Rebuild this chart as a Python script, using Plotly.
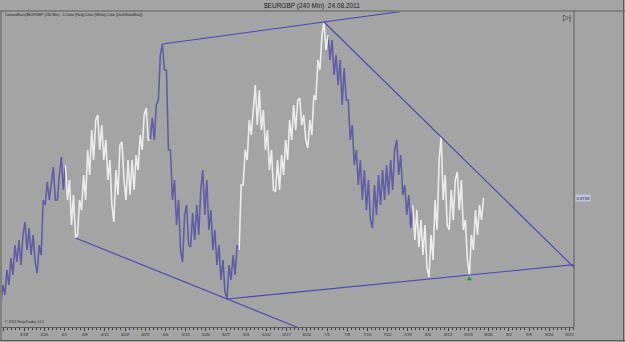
import math
import pandas as pd
import plotly.graph_objects as go

# ---------------- data ----------------
title_text = "$EURGBP (240 Min)  24.08.2011"
indicator_text = "ColoredBars($EURGBP (240 Min), -1,Color [Red],Color [White],Color [DarkSlateBlue])"
copyright_text = "\u00a9 2011 NinjaTrader, LLC"
last_price_text = "0.8758"

start_day = "2011-03-10"   # first trading day in view

day_high = [
    0.8584, 0.8614, 0.8638, 0.8664, 0.8674, 0.8684, 0.8710, 0.8698, 0.8684, 0.8664,
    0.8754, 0.8790, 0.8794, 0.8820, 0.8804, 0.8840, 0.8824, 0.8794, 0.8764, 0.8754,
    0.8804, 0.8854, 0.8894, 0.8914, 0.8924, 0.8904, 0.8874, 0.8834, 0.8814, 0.8864,
    0.8870, 0.8834, 0.8834, 0.8844, 0.8884, 0.8924, 0.8938, 0.8918, 0.8944, 0.9044,
    0.9066, 0.9014, 0.8854, 0.8794, 0.8754, 0.8724, 0.8744, 0.8728, 0.8744, 0.8774,
    0.8814, 0.8794, 0.8734, 0.8694, 0.8664, 0.8634, 0.8624, 0.8644, 0.8664, 0.8784,
    0.8854, 0.8914, 0.8944, 0.8984, 0.8974, 0.8934, 0.8894, 0.8854, 0.8834, 0.8844,
    0.8874, 0.8914, 0.8944, 0.8954, 0.8958, 0.8924, 0.8914, 0.8964, 0.9034, 0.9084,
    0.9110, 0.9084, 0.9074, 0.9044, 0.9034, 0.9018, 0.8954, 0.8904, 0.8854, 0.8834,
    0.8814, 0.8794, 0.8784, 0.8804, 0.8814, 0.8824, 0.8834, 0.8854, 0.8874, 0.8844,
    0.8784, 0.8764, 0.8744, 0.8734, 0.8714, 0.8704, 0.8684, 0.8754, 0.8834, 0.8880,
    0.8804, 0.8774, 0.8794, 0.8810, 0.8794, 0.8714, 0.8684, 0.8734, 0.8744, 0.8758,
]
day_low = [
    0.8544, 0.8564, 0.8584, 0.8604, 0.8630, 0.8624, 0.8654, 0.8644, 0.8630, 0.8608,
    0.8644, 0.8744, 0.8754, 0.8754, 0.8754, 0.8774, 0.8754, 0.8704, 0.8678, 0.8684,
    0.8734, 0.8754, 0.8804, 0.8834, 0.8854, 0.8834, 0.8794, 0.8744, 0.8710, 0.8764,
    0.8794, 0.8754, 0.8764, 0.8774, 0.8814, 0.8854, 0.8874, 0.8874, 0.8874, 0.8954,
    0.9014, 0.8854, 0.8754, 0.8704, 0.8654, 0.8630, 0.8664, 0.8660, 0.8674, 0.8684,
    0.8724, 0.8694, 0.8654, 0.8624, 0.8594, 0.8570, 0.8556, 0.8594, 0.8604, 0.8654,
    0.8784, 0.8834, 0.8884, 0.8904, 0.8894, 0.8854, 0.8814, 0.8774, 0.8770, 0.8774,
    0.8804, 0.8834, 0.8874, 0.8894, 0.8904, 0.8874, 0.8858, 0.8884, 0.8954, 0.9014,
    0.9054, 0.9034, 0.9004, 0.8984, 0.8944, 0.8954, 0.8874, 0.8824, 0.8784, 0.8754,
    0.8734, 0.8714, 0.8698, 0.8724, 0.8744, 0.8754, 0.8764, 0.8774, 0.8804, 0.8764,
    0.8724, 0.8698, 0.8674, 0.8660, 0.8644, 0.8618, 0.8600, 0.8634, 0.8694, 0.8754,
    0.8704, 0.8694, 0.8714, 0.8734, 0.8694, 0.8634, 0.8604, 0.8654, 0.8684, 0.8714,
]
# colour of the bars: (colour name, number of consecutive days)
color_runs = [("blue", 16), ("white", 21), ("blue", 22), ("white", 22), ("blue", 21), ("white", 18)]

tick_labels = ["3/11", "3/18", "3/25", "4/1", "4/8", "4/15", "4/22", "4/29", "5/6", "5/13",
               "5/20", "5/27", "6/3", "6/10", "6/17", "6/24", "7/1", "7/8", "7/15", "7/22",
               "7/29", "8/5", "8/12", "8/19", "8/26", "9/2", "9/9", "9/16", "9/23"]

# trend lines: (day index, extreme) -> (day index, extreme), extended to trading-day index
trendlines = [
    ((18, "low"), (56, "low"), 80.0),
    ((56, "low"), (116, "low"), 142.3),
    ((40, "high"), (80, "high"), 110.0),
    ((80, "high"), (109, "high"), 142.3),
]
signal_day = 116
x_range = ["2011-03-10 13:12", "2011-09-26 03:20"]
y_range = [0.8500, 0.9130]

# ---------------- styling ----------------
BG = "#a4a4a4"
FRAME = "#5c5c5c"
BAR_COLORS = {"blue": "#625ca6", "white": "#ececec"}
TL_COLOR = "#4848b4"
W, H = 625, 342
L, R, T, B = 2, 51, 12, 15

n = len(day_high)
cal = pd.bdate_range(start_day, periods=200)
day_color = []
for c, k in color_runs:
    day_color += [c] * k

mids = [(h + l) / 2 for h, l in zip(day_high, day_low)]
up = [(mids[j + 1] > mids[j]) if j < n - 1 else (mids[j] > mids[j - 1]) for j in range(n)]


def tpoint(t):
    j = int(math.floor(t))
    return cal[j] + pd.Timedelta(hours=24 * (t - j))


def ext(j, kind):
    if kind == "high":
        return j + (0.75 if up[j] else 0.25), day_high[j]
    return j + (0.25 if up[j] else 0.75), day_low[j]


pts = []
for j in range(n):
    seq = [(0.25, day_low[j]), (0.75, day_high[j])] if up[j] else [(0.25, day_high[j]), (0.75, day_low[j])]
    for f, p in seq:
        pts.append((tpoint(j + f), p, day_color[j]))

fig = go.Figure()
traces = {c: ([], []) for c in BAR_COLORS}
i = 0
while i < len(pts):
    c = pts[i][2]
    k = i
    while k < len(pts) and pts[k][2] == c:
        k += 1
    seg = pts[i:min(k + 1, len(pts))]
    xs, ys = traces[c]
    xs += [p[0] for p in seg] + [None]
    ys += [p[1] for p in seg] + [None]
    i = k
for c in ["blue", "white"]:
    xs, ys = traces[c]
    fig.add_trace(go.Scatter(x=xs, y=ys, mode="lines", line=dict(color=BAR_COLORS[c], width=1.6),
                             hoverinfo="skip", showlegend=False))

for (a, b, t_end) in trendlines:
    t1, p1 = ext(*a)
    t2, p2 = ext(*b)
    p_end = p1 + (p2 - p1) * (t_end - t1) / (t2 - t1)
    fig.add_trace(go.Scatter(x=[tpoint(t1), tpoint(t_end)], y=[p1, p_end], mode="lines",
                             line=dict(color=TL_COLOR, width=1.1), hoverinfo="skip", showlegend=False))

ts, ps = ext(signal_day, "low")
fig.add_trace(go.Scatter(x=[tpoint(ts)], y=[ps - 0.0008], mode="markers",
                         marker=dict(symbol="triangle-up", size=5, color="#1e9e2a"),
                         hoverinfo="skip", showlegend=False))

tick_vals = [pd.Timestamp("2011/" + s) for s in tick_labels]

fig.update_layout(
    width=W, height=H, margin=dict(l=L, r=R, t=T, b=B),
    paper_bgcolor=BG, plot_bgcolor=BG, showlegend=False,
    font=dict(family="Liberation Sans", color="#2a2a2a"),
    xaxis=dict(type="date", range=x_range, rangebreaks=[dict(bounds=["sat", "mon"])],
               tickvals=tick_vals, ticktext=tick_labels, tickfont=dict(size=4.2, color="#2a2a2a"),
               ticks="outside", ticklen=3, tickcolor="#404040", tickwidth=1,
               minor=dict(ticks="outside", ticklen=2, tickcolor="#404040", dtick=86400000,
                          tick0="2011-03-07", showgrid=False),
               showgrid=False, zeroline=False, showline=True, linecolor=FRAME, linewidth=1,
               fixedrange=True),
    yaxis=dict(range=y_range, showgrid=False, zeroline=False, showticklabels=False,
               showline=False, ticks="", fixedrange=True),
)


def px_x(p):
    return (p - L) / (W - L - R)


def px_y(p):
    return (H - B - p) / (H - T - B)


frame = [
    (0, 11, W, 11),
    (1, 11, 1, 341),
    (574, 11, 574, 327),
    (0, 340.5, W, 340.5),
    (623.5, 0, 623.5, 342),
]
for x0, y0, x1, y1 in frame:
    fig.add_shape(type="line", xref="paper", yref="paper", x0=px_x(x0), y0=px_y(y0),
                  x1=px_x(x1), y1=px_y(y1), line=dict(color=FRAME, width=1))

fig.add_annotation(xref="paper", yref="paper", x=px_x(312), y=px_y(5.5), text=title_text,
                   showarrow=False, font=dict(size=6.5, color="#1e1e1e"), xanchor="center", yanchor="middle")
fig.add_annotation(xref="paper", yref="paper", x=px_x(3), y=px_y(15), text=indicator_text,
                   showarrow=False, font=dict(size=3.6, color="#1e1e1e"), xanchor="left", yanchor="middle")
fig.add_annotation(xref="paper", yref="paper", x=px_x(3), y=px_y(322), text=copyright_text,
                   showarrow=False, font=dict(size=3.6, color="#1e1e1e"), xanchor="left", yanchor="middle")
fig.add_annotation(xref="paper", yref="paper", x=px_x(567), y=px_y(17), text="\u25b7|",
                   showarrow=False, font=dict(size=8, color="#2a2a2a"), xanchor="center", yanchor="middle")
fig.add_annotation(xref="paper", yref="y", x=px_x(575), y=day_high[-1],
                   text=last_price_text, showarrow=False, xanchor="left", yanchor="middle",
                   font=dict(size=4.2, color="#1c1c5c"), bgcolor="#c2c2dc", borderpad=0.5)

fig.write_html("out.html")
